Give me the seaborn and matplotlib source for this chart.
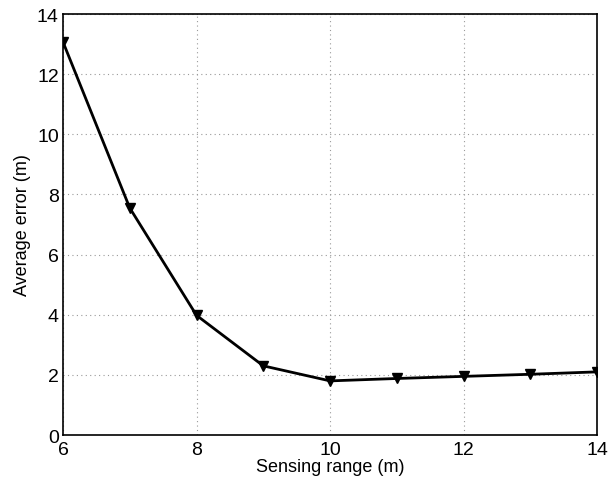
import matplotlib
matplotlib.use("Agg")
import matplotlib.pyplot as plt
import seaborn as sns
import pandas as pd

sensing_range = [6, 7, 8, 9, 10, 11, 12, 13, 14]
avg_error = [13.07, 7.55, 3.98, 2.3, 1.8, 1.88, 1.95, 2.02, 2.1]
x_ticks = [6, 8, 10, 12, 14]
y_ticks = [0, 2, 4, 6, 8, 10, 12, 14]

sns.set_style("white")
plt.rcParams['font.family'] = ['Liberation Sans', 'DejaVu Sans']
plt.rcParams['text.color'] = 'black'
plt.rcParams['axes.labelcolor'] = 'black'
plt.rcParams['xtick.color'] = 'black'
plt.rcParams['ytick.color'] = 'black'

df = pd.DataFrame({"x": sensing_range, "y": avg_error})

fig = plt.figure(figsize=(6.13, 4.85), dpi=100)
ax = fig.add_axes([0.1028, 0.101, 0.8712, 0.868])
sns.lineplot(data=df, x="x", y="y", ax=ax, color="black", linewidth=2,
             marker="v", markersize=7, markerfacecolor="black",
             markeredgecolor="black", markeredgewidth=1)
ax.set_xlim(6, 14)
ax.set_ylim(0, 14)
ax.set_xticks(x_ticks)
ax.set_yticks(y_ticks)
ax.set_xticklabels([str(t) for t in x_ticks], fontsize=14)
ax.set_yticklabels([str(t) for t in y_ticks], fontsize=14)
ax.grid(True, linestyle=(0, (1, 3)), color="#9a9a9a", linewidth=0.8)
for s in ax.spines.values():
    s.set_visible(True)
    s.set_color("black")
    s.set_linewidth(1.2)
ax.tick_params(direction="in", length=5, width=1, colors="black")
ax.tick_params(axis="x", pad=4)
ax.tick_params(axis="y", pad=3)
ax.set_xlabel("Sensing range (m)", fontsize=13, labelpad=0)
ax.set_ylabel("Average error (m)", fontsize=13, labelpad=4)
fig.savefig("out.png", dpi=100)
